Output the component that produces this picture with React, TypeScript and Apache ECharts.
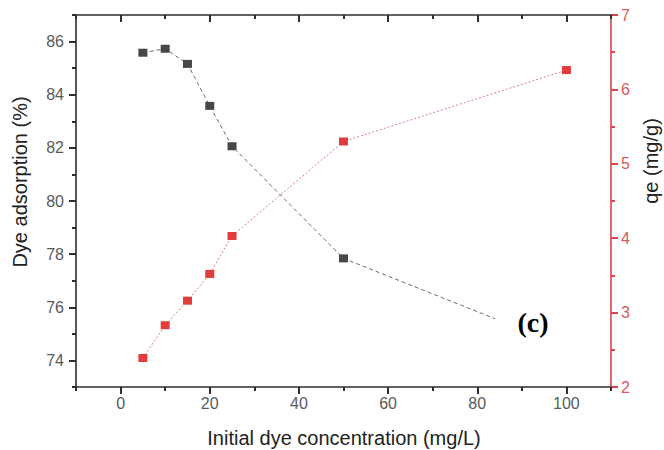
import React, { useEffect, useRef } from "react";
import * as echarts from "echarts";

const concentrations = [5, 10, 15, 20, 25, 50, 100];
const adsorptionPct = [85.58, 85.73, 85.16, 83.58, 82.06, 77.84, 74.5];
const qeValues = [2.39, 2.83, 3.16, 3.52, 4.03, 5.3, 6.26];

const xMajorTicks = [0, 20, 40, 60, 80, 100];
const yLeftMajorTicks = [74, 76, 78, 80, 82, 84, 86];

const xTitle = "Initial dye concentration (mg/L)";
const yLeftTitle = "Dye adsorption (%)";
const yRightTitle = "qe (mg/g)";
const panelLabel = "(c)";

const AXIS = "#2e2e2e";
const RED = "#d9454a";
const FONT = "Liberation Sans, Arial, sans-serif";
const MAJOR_LEN = 7;
const MINOR_LEN = 4;

export default function App() {
  const ref = useRef<HTMLDivElement>(null);
  useEffect(() => {
    document.body.style.margin = "0";
    if (!ref.current) return;
    const chart = echarts.init(ref.current, null, { renderer: "svg" });
    const black = concentrations.map((c, i) => [c, adsorptionPct[i]]);
    const red = concentrations.map((c, i) => [c, qeValues[i]]);
    const mkLine = () => ({ show: true, onZero: false, lineStyle: { color: AXIS, width: 1.6 } });
    const hiddenLine = () => ({ show: false, onZero: false });
    const tickStyle = () => ({ color: AXIS, width: 2 });
    const labelStyle = { fontFamily: FONT, fontSize: 16, color: "#5a5a5a" };
    chart.setOption({
      animation: false,
      backgroundColor: "#fff",
      grid: { left: 76, right: 53, top: 15, bottom: 63 },
      xAxis: [
        {
          type: "value", min: -10, max: 110, splitLine: { show: false },
          position: "bottom",
          axisLine: mkLine(),
          axisTick: { show: true, customValues: xMajorTicks, length: MAJOR_LEN, lineStyle: tickStyle() },
          axisLabel: { ...labelStyle, customValues: xMajorTicks, margin: 8 },
        },
        {
          type: "value", min: -10, max: 110, interval: 10, splitLine: { show: false },
          position: "bottom",
          axisLine: hiddenLine(),
          axisTick: { show: true, length: MINOR_LEN, lineStyle: tickStyle() },
          axisLabel: { show: false },
        },
        {
          type: "value", min: -10, max: 110, interval: 10, splitLine: { show: false },
          position: "top",
          axisLine: mkLine(),
          axisTick: { show: true, inside: true, length: MINOR_LEN, lineStyle: tickStyle() },
          axisLabel: { show: false },
        },
        {
          type: "value", min: -10, max: 110, splitLine: { show: false },
          position: "top",
          axisLine: hiddenLine(),
          axisTick: { show: true, inside: true, customValues: xMajorTicks, length: MAJOR_LEN, lineStyle: tickStyle() },
          axisLabel: { show: false },
        },
      ],
      yAxis: [
        {
          type: "value", min: 73, max: 87, position: "left", splitLine: { show: false },
          axisLine: mkLine(),
          axisTick: { show: true, customValues: yLeftMajorTicks, length: MAJOR_LEN, lineStyle: tickStyle() },
          axisLabel: { ...labelStyle, customValues: yLeftMajorTicks, margin: 12 },
        },
        {
          type: "value", min: 73, max: 87, interval: 1, position: "left", splitLine: { show: false },
          axisLine: hiddenLine(),
          axisTick: { show: true, length: MINOR_LEN, lineStyle: tickStyle() },
          axisLabel: { show: false },
        },
        {
          type: "value",
          min: 2,
          max: 7,
          interval: 1,
          position: "right",
          splitLine: { show: false },
          axisLine: { show: true, onZero: false, lineStyle: { color: RED, width: 1.6 } },
          axisTick: { show: true, length: MAJOR_LEN, lineStyle: { color: RED, width: 2 } },
          minorTick: { show: true, splitNumber: 2, length: MINOR_LEN, lineStyle: { color: RED, width: 2 } },
          axisLabel: { ...labelStyle, color: "#d45a5e", margin: 10 },
        },
      ],
      series: [
        {
          type: "line",
          xAxisIndex: 0,
          yAxisIndex: 0,
          data: black,
          symbol: "rect",
          symbolSize: [9, 8],
          itemStyle: { color: "#474747" },
          lineStyle: { color: "#6a6a6a", width: 1, type: [4, 3] },
          z: 3,
        },
        {
          type: "line",
          xAxisIndex: 0,
          yAxisIndex: 2,
          data: red,
          symbol: "rect",
          symbolSize: [9, 8],
          itemStyle: { color: "#e23b3b" },
          lineStyle: { color: "#d98080", width: 1, type: [2, 2] },
          z: 3,
        },
      ],
      graphic: [
        {
          type: "rect",
          shape: { x: 495, y: 296, width: 100, height: 72 },
          style: { fill: "#ffffff" },
          z: 100,
        },
        {
          type: "text",
          x: 533,
          y: 322,
          z: 101,
          style: {
            text: panelLabel,
            font: "bold 28px 'Liberation Serif', 'Times New Roman', serif",
            fill: "#000",
            align: "center",
            verticalAlign: "middle",
          },
        },
        {
          type: "text",
          x: 344,
          y: 438,
          style: {
            text: xTitle,
            font: `20px ${FONT}`,
            fill: "#222",
            align: "center",
            verticalAlign: "middle",
          },
        },
        {
          type: "text",
          x: 20,
          y: 182,
          rotation: Math.PI / 2,
          style: {
            text: yLeftTitle,
            font: `20px ${FONT}`,
            fill: "#222",
            align: "center",
            verticalAlign: "middle",
          },
        },
        {
          type: "text",
          x: 651,
          y: 161,
          rotation: Math.PI / 2,
          style: {
            text: yRightTitle,
            font: `20px ${FONT}`,
            fill: "#222",
            align: "center",
            verticalAlign: "middle",
          },
        },
      ],
    });
    return () => chart.dispose();
  }, []);
  return <div ref={ref} style={{ width: 664, height: 450 }} />;
}
